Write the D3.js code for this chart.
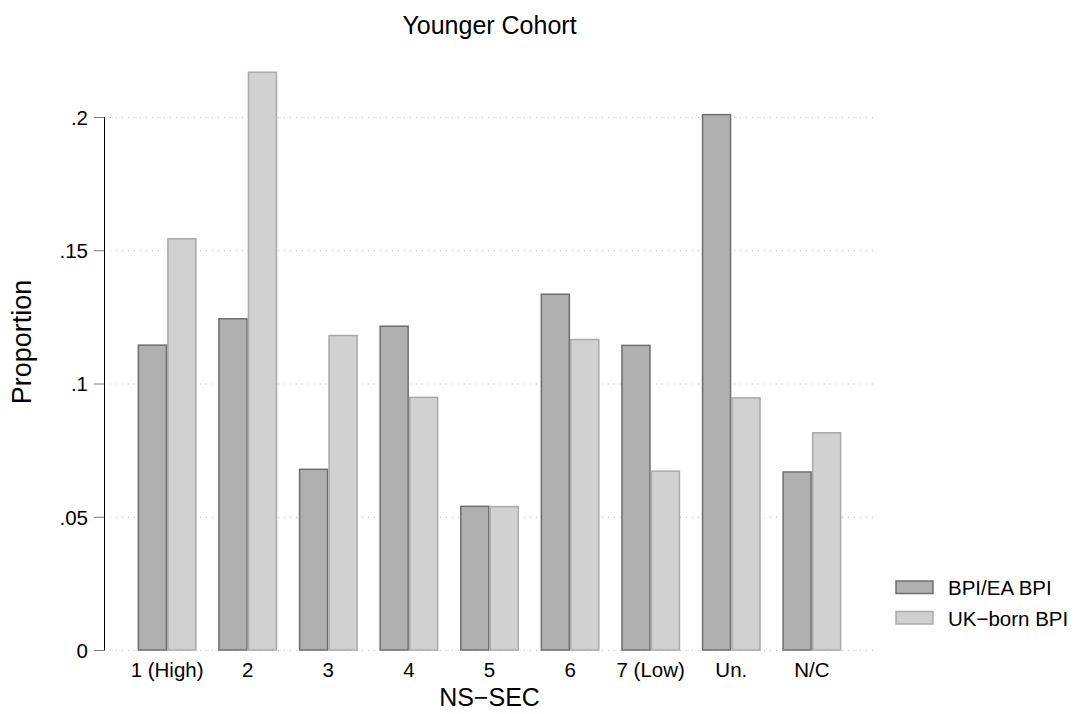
<!DOCTYPE html>
<html>
<head>
<meta charset="utf-8">
<script src="https://cdn.jsdelivr.net/npm/d3@7"></script>
<style>
  body { margin: 0; background: #fff; }
  text { font-family: "Liberation Sans", Arial, Helvetica, sans-serif; fill: #000; }
</style>
</head>
<body>
<svg id="chart" width="1078" height="714"></svg>
<script>
const categories = ['1 (High)', '2', '3', '4', '5', '6', '7 (Low)', 'Un.', 'N/C']
const series = ['BPI/EA BPI', 'UK\u2212born BPI']
const bpiEa = [0.1144, 0.1243, 0.0678, 0.1215, 0.0539, 0.1335, 0.1143, 0.2009, 0.0668]
const ukBorn = [0.1543, 0.2168, 0.118, 0.0948, 0.0538, 0.1165, 0.0671, 0.0946, 0.0815]
const yTicks = [0, 0.05, 0.1, 0.15, 0.2]

const data = categories.map((c, i) => ({
  cat: c,
  values: [
    { key: series[0], value: bpiEa[i] },
    { key: series[1], value: ukBorn[i] },
  ],
}))

const fills = { [series[0]]: '#b0b0b0', [series[1]]: '#d1d1d1' }
const strokes = { [series[0]]: '#6e6e6e', [series[1]]: '#a9a9a9' }

const margin = { top: 117, right: 203, bottom: 64, left: 104 }
const width = 1078
const height = 714
const chartWidth = width - margin.left - margin.right
const chartHeight = height - margin.top - margin.bottom

const svg = d3.select('#chart')

const x0 = d3
  .scaleBand()
  .domain(categories)
  .range([margin.left, margin.left + chartWidth])
  .paddingInner(0.268)
  .paddingOuter(0.417)

const x1 = d3.scaleBand().domain(series).range([0, x0.bandwidth()])

const y = d3
  .scaleLinear()
  .domain([0, 0.2])
  .range([margin.top + chartHeight, margin.top])

// dotted gridlines
svg
  .append('g')
  .attr('id', 'grid')
  .selectAll('line')
  .data(yTicks)
  .join('line')
  .attr('x1', margin.left)
  .attr('x2', margin.left + chartWidth)
  .attr('y1', (d) => y(d) + 0.5)
  .attr('y2', (d) => y(d) + 0.5)
  .attr('stroke', '#bdbdbd')
  .attr('stroke-width', 1)
  .attr('stroke-dasharray', '1,5')

// bars
svg
  .append('g')
  .attr('id', 'bars')
  .selectAll('g')
  .data(data)
  .join('g')
  .attr('transform', (d) => `translate(${x0(d.cat)},0)`)
  .selectAll('rect')
  .data((d) => d.values)
  .join('rect')
  .attr('x', (d) => x1(d.key) + 0.75)
  .attr('y', (d) => y(d.value))
  .attr('width', x1.bandwidth() - 1.5)
  .attr('height', (d) => y(0) - y(d.value))
  .attr('fill', (d) => fills[d.key])
  .attr('stroke', (d) => strokes[d.key])
  .attr('stroke-width', 1.5)

// y axis
const yAxis = svg
  .append('g')
  .attr('transform', `translate(${margin.left},0)`)
  .call(
    d3
      .axisLeft(y)
      .tickValues(yTicks)
      .tickSize(10)
      .tickPadding(6)
      .tickFormat((d) => (d === 0 ? '0' : d3.format('.2~f')(d).replace(/^0/, '')))
  )
yAxis.select('.domain').attr('stroke', '#000').attr('d', `M0.5,${y(0.2)}V${y(0) + 0.5}`)
yAxis.selectAll('.tick line').attr('stroke', '#7a7a7a')
yAxis
  .selectAll('.tick text')
  .attr('font-size', 20.5)
  .attr('dy', '0.36em')
  .attr('font-family', '"Liberation Sans", Arial, sans-serif')
  .attr('fill', '#000')

// x tick labels
svg
  .append('g')
  .attr('id', 'x-labels')
  .selectAll('text')
  .data(categories)
  .join('text')
  .attr('x', (d) => x0(d) + x0.bandwidth() / 2)
  .attr('y', 677)
  .attr('text-anchor', 'middle')
  .attr('font-size', 20.5)
  .text((d) => d)

// axis titles
svg
  .append('text')
  .attr('x', margin.left + chartWidth / 2)
  .attr('y', 706)
  .attr('text-anchor', 'middle')
  .attr('font-size', 25)
  .text('NS\u2212SEC')

svg
  .append('text')
  .attr('transform', `translate(31,342) rotate(-90)`)
  .attr('text-anchor', 'middle')
  .attr('font-size', 27)
  .text('Proportion')

// title
svg
  .append('text')
  .attr('x', margin.left + chartWidth / 2)
  .attr('y', 34)
  .attr('text-anchor', 'middle')
  .attr('font-size', 25)
  .text('Younger Cohort')

// legend
const legend = svg
  .append('g')
  .attr('id', 'legend')
  .selectAll('g')
  .data(series)
  .join('g')
  .attr('transform', (d, i) => `translate(896,${581 + i * 30.5})`)

legend
  .append('rect')
  .attr('width', 37)
  .attr('height', 12.5)
  .attr('fill', (d) => fills[d])
  .attr('stroke', (d) => strokes[d])
  .attr('stroke-width', 1.5)

legend
  .append('text')
  .attr('x', 52)
  .attr('y', 14)
  .attr('font-size', 20.5)
  .text((d) => d)
</script>
</body>
</html>
